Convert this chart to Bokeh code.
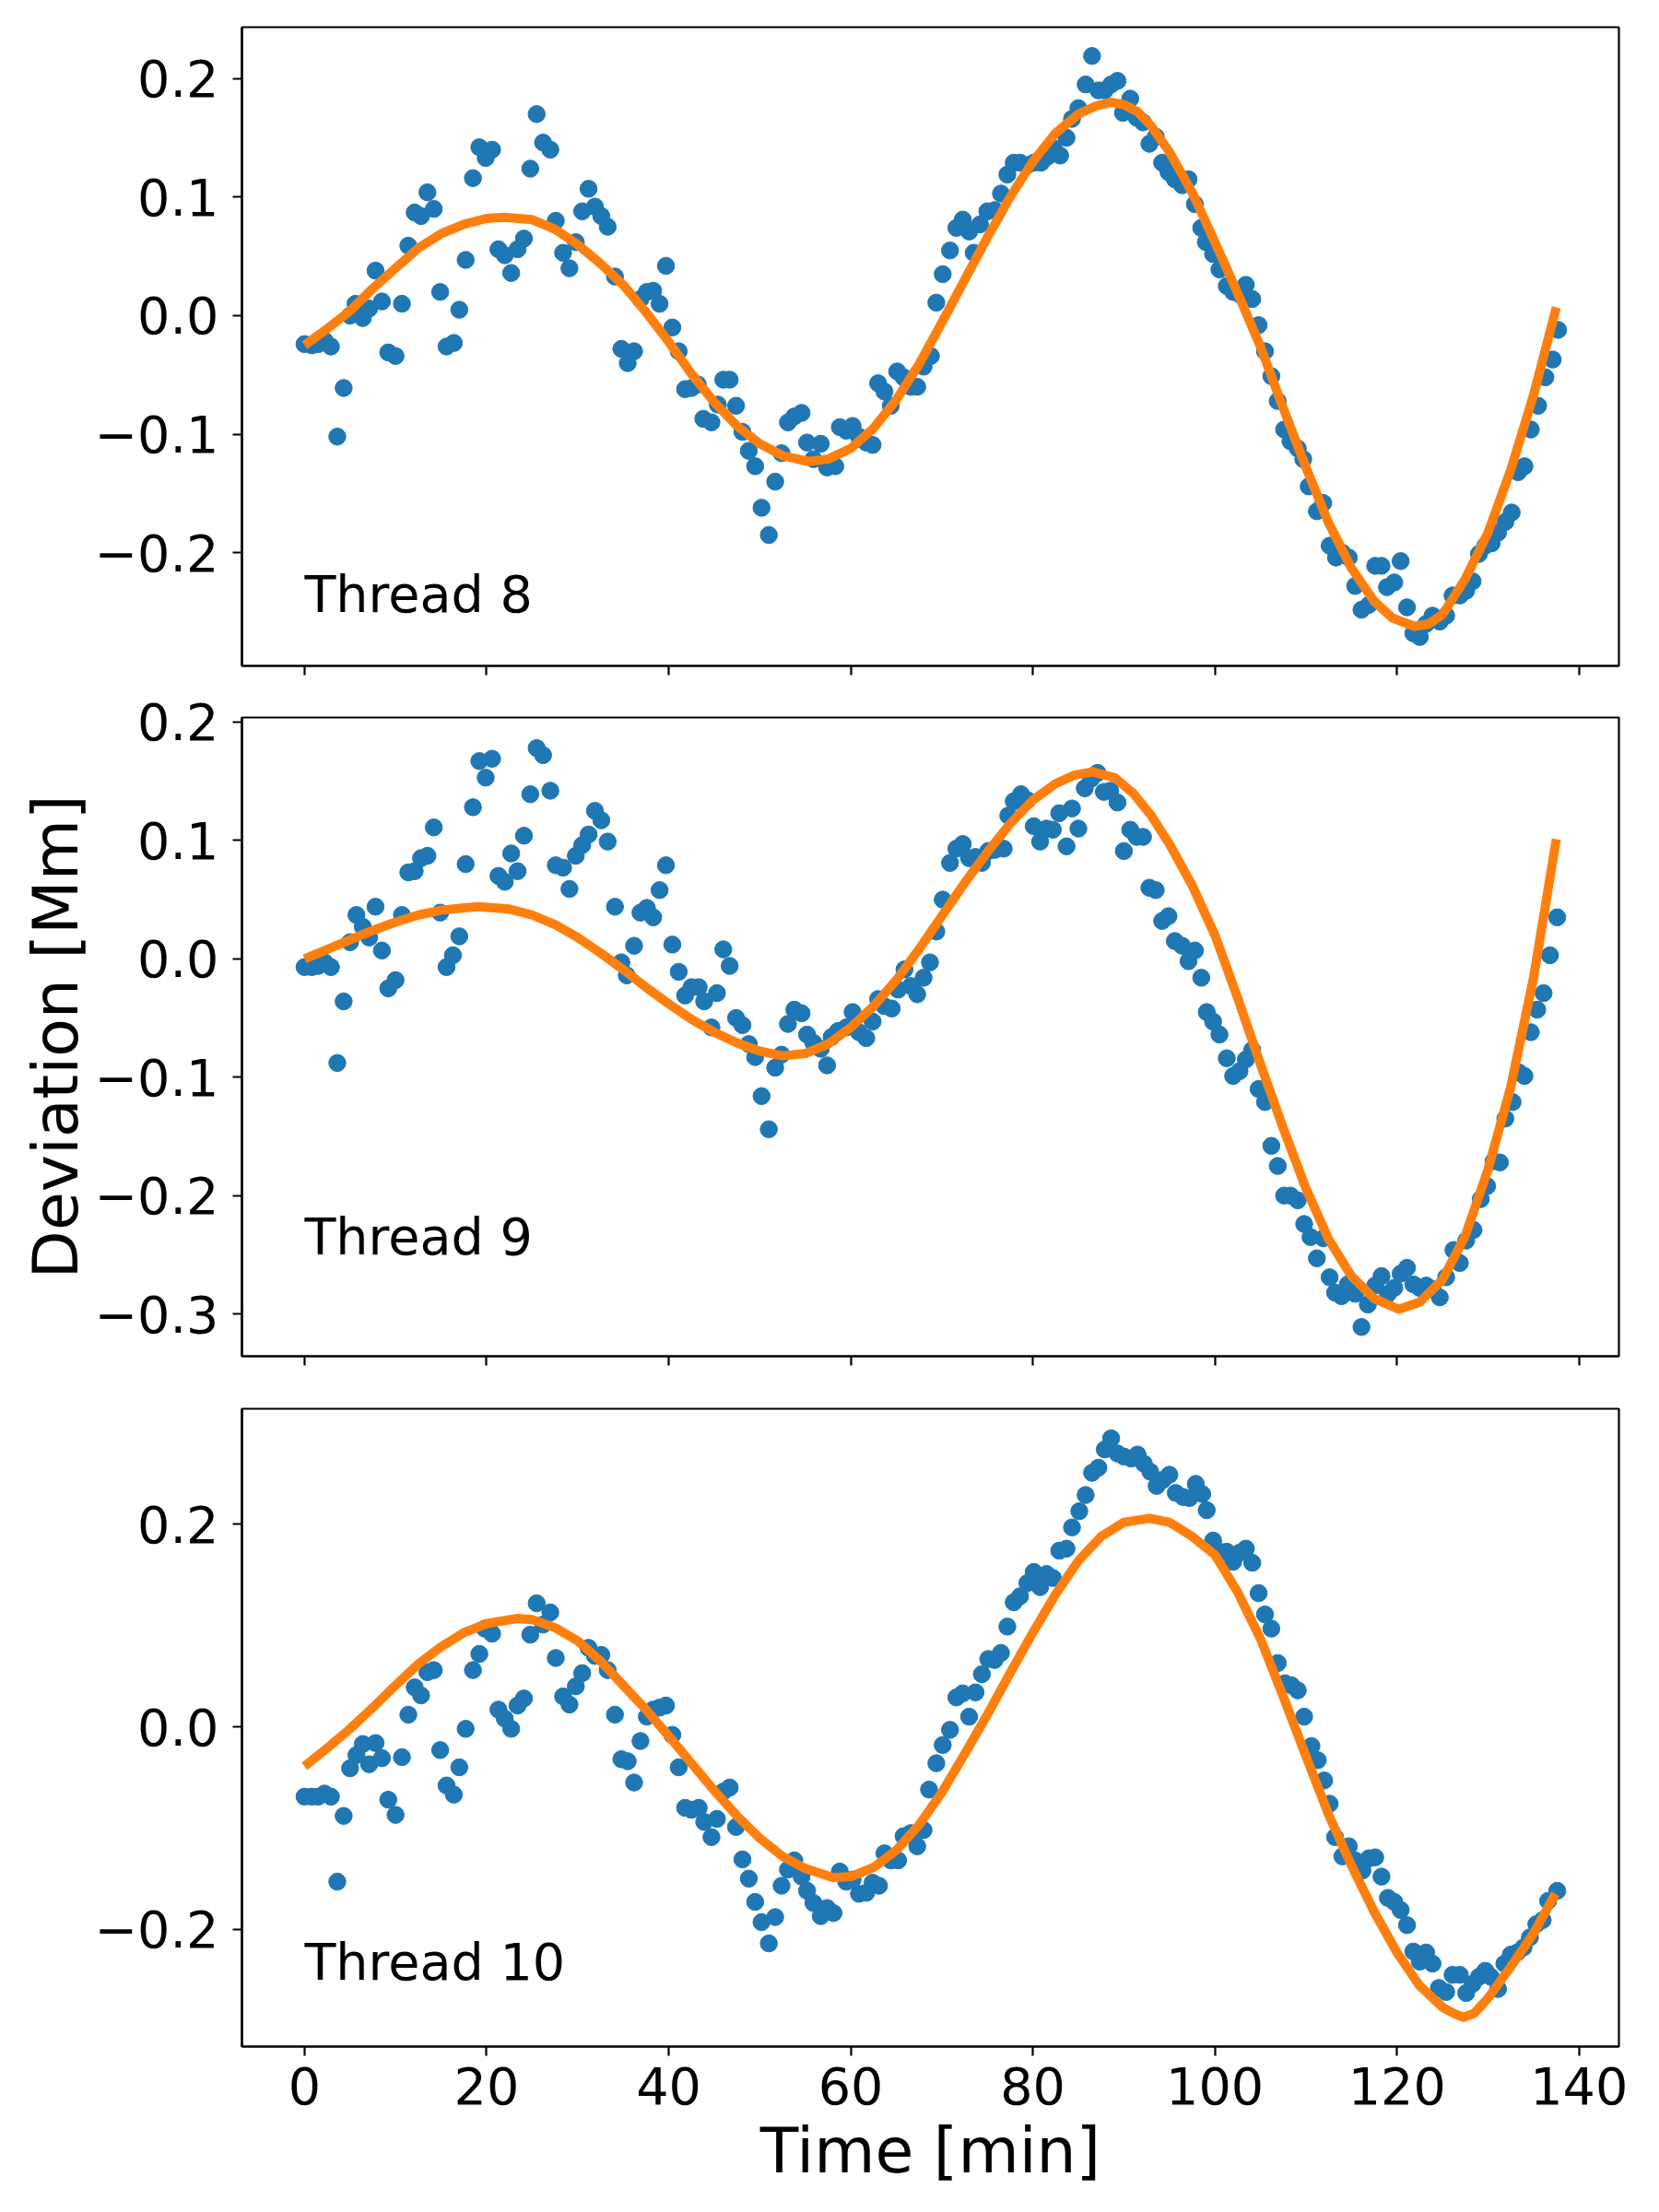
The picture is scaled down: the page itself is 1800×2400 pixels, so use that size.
from bokeh.plotting import figure
from bokeh.models import Range1d, FixedTicker, CustomJSTickFormatter, Label
from bokeh.layouts import column
from bokeh.embed import file_html
from bokeh.resources import INLINE

# ---------------- data ----------------
t8 = [0.0, 0.8, 1.5, 2.2, 2.9, 3.6, 4.3, 5.0, 5.6, 6.4, 7.1, 7.8, 8.5, 9.2, 10.0, 10.7, 11.4, 12.1, 12.8, 13.5,
      14.2, 14.9, 15.6, 16.4, 17.0, 17.7, 18.5, 19.2, 19.9, 20.6, 21.3, 22.0, 22.7, 23.4, 24.1, 24.8, 25.5, 26.2,
      27.0, 27.6, 28.4, 29.1, 29.8, 30.5, 31.2, 31.9, 32.6, 33.3, 34.1, 34.8, 35.5, 36.2, 36.9, 37.6, 38.3, 39.0,
      39.7, 40.4, 41.1, 41.8, 42.5, 43.2, 43.8, 44.7, 45.4, 46.0, 46.7, 47.4, 48.1, 48.8, 49.5, 50.2, 51.0, 51.7,
      52.4, 53.1, 53.8, 54.6, 55.2, 55.9, 56.7, 57.4, 58.3, 58.8, 59.5, 60.2, 60.9, 61.7, 62.4, 63.0, 63.7, 64.4,
      65.1, 65.8, 66.6, 67.3, 68.0, 68.8, 69.4, 70.1, 70.9, 71.6, 72.3, 73.0, 73.5, 74.2, 75.0, 75.8, 76.5, 77.2,
      77.9, 78.6, 79.4, 80.1, 80.9, 81.6, 82.3, 83.0, 83.7, 84.3, 85.0, 85.8, 86.5, 87.2, 87.9, 88.6, 89.3, 89.9,
      90.7, 91.4, 92.1, 92.8, 93.5, 94.2, 94.9, 95.6, 96.4, 97.1, 97.8, 98.5, 99.0, 99.8, 100.5, 101.3, 102.0,
      102.7, 103.4, 104.1, 104.8, 105.5, 106.2, 106.9, 107.6, 108.3, 109.1, 109.7, 110.3, 111.2, 111.9, 112.6,
      113.3, 114.0, 114.7, 115.4, 116.1, 116.9, 117.6, 118.3, 118.9, 119.7, 120.4, 121.1, 121.8, 122.5, 123.2,
      123.9, 124.7, 125.4, 126.1, 126.9, 127.6, 128.3, 129.0, 129.7, 130.4, 131.1, 131.9, 132.6, 133.3, 134.0,
      134.7, 135.5, 136.3, 137.1, 137.7]
y8 = [-0.024, -0.025, -0.024, -0.021, -0.026, -0.102, -0.061, 0.000, 0.010, -0.002, 0.006, 0.038, 0.012, -0.031,
      -0.034, 0.010, 0.059, 0.087, 0.084, 0.104, 0.090, 0.020, -0.026, -0.023, 0.005, 0.047, 0.116, 0.142, 0.133,
      0.140, 0.056, 0.051, 0.036, 0.056, 0.065, 0.124, 0.170, 0.146, 0.140, 0.080, 0.053, 0.040, 0.062, 0.088,
      0.107, 0.092, 0.084, 0.075, 0.033, -0.028, -0.040, -0.030, 0.014, 0.020, 0.021, 0.010, 0.042, -0.010,
      -0.030, -0.062, -0.061, -0.058, -0.087, -0.090, -0.075, -0.054, -0.054, -0.076, -0.098, -0.114, -0.127,
      -0.162, -0.185, -0.140, -0.116, -0.090, -0.085, -0.082, -0.107, -0.121, -0.108, -0.128, -0.127, -0.094,
      -0.097, -0.093, -0.102, -0.107, -0.109, -0.057, -0.064, -0.076, -0.047, -0.052, -0.060, -0.060, -0.043,
      -0.034, 0.011, 0.035, 0.055, 0.074, 0.081, 0.071, 0.053, 0.077, 0.088, 0.089, 0.103, 0.119, 0.129, 0.129,
      0.127, 0.129, 0.129, 0.134, 0.141, 0.135, 0.150, 0.166, 0.175, 0.195, 0.219, 0.190, 0.190, 0.195, 0.198,
      0.171, 0.183, 0.167, 0.163, 0.145, 0.151, 0.129, 0.121, 0.115, 0.110, 0.115, 0.094, 0.074, 0.062, 0.052,
      0.039, 0.025, 0.020, 0.018, 0.026, 0.014, -0.008, -0.030, -0.051, -0.072, -0.096, -0.106, -0.112, -0.121,
      -0.144, -0.165, -0.158, -0.194, -0.204, -0.200, -0.204, -0.228, -0.248, -0.244, -0.211, -0.211, -0.229,
      -0.225, -0.207, -0.246, -0.268, -0.271, -0.260, -0.253, -0.258, -0.253, -0.236, -0.236, -0.232, -0.224,
      -0.201, -0.194, -0.192, -0.183, -0.174, -0.166, -0.132, -0.127, -0.096, -0.076, -0.052, -0.037, -0.012]
fit8_t = [0, 2.5, 5, 7.5, 10, 12.5, 15, 17.5, 20, 22, 25, 27.5, 30, 32.5, 35, 37.5, 40, 42.5, 45, 47.5, 50, 52.5,
          55.3, 57.5, 60, 62.5, 65, 67.5, 70, 72.5, 75, 77.5, 80, 82.5, 85, 87, 88.6, 90, 91.5, 93, 95, 97.5, 100,
          102.5, 105, 107.5, 110, 112.5, 115, 117.5, 119.5, 121.9, 123.5, 125, 127.5, 130, 132.5, 135, 137.5]
fit8_y = [-0.025, -0.011, 0.004, 0.023, 0.040, 0.057, 0.069, 0.077, 0.082, 0.083, 0.081, 0.073, 0.060, 0.044,
          0.026, 0.003, -0.022, -0.049, -0.073, -0.093, -0.108, -0.118, -0.123, -0.121, -0.112, -0.095, -0.071,
          -0.041, -0.006, 0.030, 0.066, 0.100, 0.130, 0.154, 0.170, 0.177, 0.180, 0.178, 0.172, 0.160, 0.138,
          0.104, 0.062, 0.019, -0.026, -0.078, -0.128, -0.175, -0.213, -0.241, -0.255, -0.262, -0.260, -0.252,
          -0.222, -0.183, -0.130, -0.067, 0.007]

t9 = [0.0, 0.8, 1.5, 2.2, 2.9, 3.6, 4.3, 5.0, 5.7, 6.4, 7.1, 7.8, 8.5, 9.2, 10.0, 10.7, 11.4, 12.1, 12.8, 13.5,
      14.2, 14.9, 15.6, 16.3, 17.0, 17.7, 18.5, 19.2, 19.9, 20.6, 21.3, 22.0, 22.7, 23.4, 24.1, 24.8, 25.5, 26.2,
      27.0, 27.6, 28.4, 29.1, 29.8, 30.5, 31.2, 31.9, 32.6, 33.3, 34.1, 34.8, 35.4, 36.2, 36.9, 37.6, 38.3, 39.0,
      39.7, 40.4, 41.1, 41.8, 42.5, 43.3, 43.9, 44.7, 45.3, 46.0, 46.7, 47.4, 48.1, 48.8, 49.5, 50.2, 51.0, 51.7,
      52.4, 53.1, 53.8, 54.6, 55.2, 55.9, 56.7, 57.4, 57.9, 58.6, 59.5, 60.2, 60.9, 61.7, 62.4, 63.0, 63.7, 64.5,
      65.2, 65.9, 66.6, 67.3, 68.0, 68.7, 69.4, 70.1, 70.9, 71.6, 72.3, 73.0, 73.7, 74.4, 75.1, 75.8, 76.8, 77.3,
      77.9, 78.7, 79.4, 80.1, 80.8, 81.5, 82.2, 82.9, 83.7, 84.3, 85.0, 85.7, 86.4, 87.1, 87.8, 88.5, 89.3, 90.0,
      90.7, 91.4, 92.1, 92.8, 93.5, 94.2, 94.9, 95.6, 96.4, 97.1, 97.8, 98.5, 99.1, 99.8, 100.5, 101.3, 102.0,
      102.7, 103.4, 104.1, 104.8, 105.5, 106.2, 106.9, 107.6, 108.3, 109.1, 109.8, 110.5, 111.2, 111.9, 112.6,
      113.2, 113.9, 114.6, 115.4, 116.1, 116.8, 117.6, 118.3, 119.0, 119.7, 120.4, 121.1, 121.8, 122.5, 123.2,
      123.9, 124.7, 125.4, 126.2, 126.9, 127.6, 128.4, 129.2, 129.9, 130.6, 131.3, 131.9, 132.7, 133.4, 134.0,
      134.7, 135.4, 136.1, 136.8, 137.6]
y9 = [-0.007, -0.007, -0.006, -0.003, -0.007, -0.088, -0.036, 0.014, 0.037, 0.027, 0.018, 0.044, 0.007, -0.025,
      -0.018, 0.037, 0.073, 0.074, 0.085, 0.087, 0.111, 0.039, -0.007, 0.003, 0.019, 0.080, 0.128, 0.167, 0.153,
      0.169, 0.070, 0.065, 0.089, 0.074, 0.104, 0.139, 0.178, 0.172, 0.142, 0.079, 0.077, 0.059, 0.087, 0.096,
      0.105, 0.125, 0.117, 0.099, 0.044, -0.003, -0.014, 0.011, 0.039, 0.043, 0.035, 0.058, 0.079, 0.012, -0.011,
      -0.031, -0.024, -0.024, -0.036, -0.058, -0.029, 0.008, -0.006, -0.050, -0.056, -0.072, -0.083, -0.116,
      -0.144, -0.092, -0.081, -0.055, -0.043, -0.046, -0.064, -0.071, -0.076, -0.090, -0.066, -0.061, -0.058,
      -0.045, -0.062, -0.067, -0.053, -0.034, -0.040, -0.042, -0.026, -0.009, -0.023, -0.030, -0.016, -0.003,
      0.023, 0.050, 0.081, 0.093, 0.097, 0.085, 0.086, 0.081, 0.091, 0.092, 0.093, 0.121, 0.133, 0.139, 0.134,
      0.112, 0.099, 0.110, 0.109, 0.123, 0.095, 0.127, 0.110, 0.144, 0.152, 0.157, 0.141, 0.142, 0.132, 0.091,
      0.109, 0.103, 0.103, 0.060, 0.058, 0.032, 0.036, 0.015, 0.011, -0.002, 0.007, -0.016, -0.045, -0.053,
      -0.064, -0.084, -0.099, -0.095, -0.085, -0.077, -0.110, -0.121, -0.158, -0.175, -0.200, -0.200, -0.204,
      -0.224, -0.235, -0.253, -0.236, -0.269, -0.282, -0.285, -0.275, -0.283, -0.311, -0.292, -0.276, -0.268,
      -0.283, -0.278, -0.266, -0.261, -0.275, -0.278, -0.276, -0.279, -0.286, -0.269, -0.246, -0.257, -0.238,
      -0.229, -0.203, -0.192, -0.171, -0.172, -0.135, -0.121, -0.096, -0.099, -0.062, -0.043, -0.029, 0.003, 0.035]
fit9_t = [0, 2.5, 5, 7.5, 10, 12.5, 15, 17.5, 19.1, 22.5, 25, 27.5, 30, 32.5, 35, 37.5, 40, 42.5, 45, 47.5, 50,
          52.5, 55, 57.5, 60, 62.5, 65, 67.5, 70, 72.5, 75, 77.5, 80, 82.5, 84.5, 86.6, 89, 91, 93, 95, 97.5, 100,
          102.5, 105, 107.5, 110, 112.5, 115, 117.5, 120.2, 122.5, 125, 127.5, 130, 132.5, 135, 137.5]
fit9_y = [0.000, 0.008, 0.016, 0.024, 0.031, 0.037, 0.041, 0.043, 0.044, 0.042, 0.037, 0.029, 0.018, 0.005,
          -0.009, -0.024, -0.038, -0.051, -0.062, -0.071, -0.078, -0.082, -0.080, -0.072, -0.058, -0.040, -0.018,
          0.008, 0.036, 0.064, 0.090, 0.114, 0.134, 0.148, 0.155, 0.158, 0.153, 0.140, 0.121, 0.097, 0.062, 0.020,
          -0.033, -0.089, -0.143, -0.194, -0.237, -0.268, -0.287, -0.296, -0.290, -0.271, -0.234, -0.178, -0.108,
          -0.016, 0.101]

t10 = [0.0, 0.8, 1.5, 2.2, 2.9, 3.6, 4.3, 5.0, 5.7, 6.4, 7.1, 7.8, 8.5, 9.2, 10.0, 10.7, 11.4, 12.1, 12.8, 13.5,
       14.2, 14.9, 15.6, 16.4, 17.0, 17.7, 18.5, 19.2, 19.8, 20.6, 21.3, 22.0, 22.7, 23.4, 24.1, 24.8, 25.5, 26.2,
       27.0, 27.6, 28.4, 29.1, 29.8, 30.5, 31.2, 31.9, 32.6, 33.3, 34.1, 34.8, 35.5, 36.2, 36.9, 37.6, 38.3, 39.0,
       39.7, 40.4, 41.1, 41.8, 42.5, 43.3, 43.9, 44.7, 45.3, 46.0, 46.7, 47.4, 48.1, 48.8, 49.5, 50.2, 51.0, 51.7,
       52.4, 53.1, 53.8, 54.6, 55.2, 55.9, 56.7, 57.4, 58.1, 58.8, 59.5, 60.2, 60.9, 61.7, 62.4, 63.1, 63.7, 64.4,
       65.2, 65.8, 66.6, 67.3, 68.0, 68.6, 69.4, 70.1, 70.9, 71.6, 72.3, 73.0, 73.7, 74.4, 75.1, 75.8, 76.5, 77.2,
       77.9, 78.6, 79.4, 80.1, 80.8, 81.5, 82.2, 82.9, 83.7, 84.3, 85.1, 85.8, 86.5, 87.2, 87.9, 88.6, 89.3, 90.0,
       90.8, 91.5, 92.2, 92.9, 93.6, 94.3, 95.0, 95.7, 96.5, 97.2, 97.9, 98.6, 99.1, 99.8, 100.5, 101.3, 102.0,
       102.7, 103.4, 104.1, 104.8, 105.5, 106.2, 106.9, 107.7, 108.4, 109.1, 109.8, 110.6, 111.3, 112.0, 112.6,
       113.2, 114.0, 114.7, 115.4, 116.2, 116.9, 117.6, 118.3, 119.0, 119.7, 120.4, 121.1, 121.8, 122.5, 123.2,
       123.9, 124.6, 125.4, 126.1, 126.9, 127.6, 128.3, 129.0, 129.7, 130.3, 131.1, 131.8, 132.5, 133.2, 133.9,
       134.6, 135.3, 136.0, 136.6, 137.6]
y10 = [-0.069, -0.069, -0.069, -0.066, -0.069, -0.153, -0.088, -0.041, -0.028, -0.017, -0.037, -0.016, -0.031,
       -0.072, -0.087, -0.030, 0.012, 0.039, 0.031, 0.054, 0.056, -0.023, -0.058, -0.067, -0.040, -0.002, 0.056,
       0.072, 0.097, 0.092, 0.017, 0.008, -0.002, 0.021, 0.028, 0.091, 0.122, 0.101, 0.113, 0.068, 0.030, 0.022,
       0.040, 0.053, 0.078, 0.070, 0.071, 0.056, 0.012, -0.032, -0.034, -0.055, -0.014, 0.010, 0.017, 0.019,
       0.021, -0.008, -0.040, -0.080, -0.082, -0.080, -0.094, -0.109, -0.091, -0.064, -0.060, -0.099, -0.131,
       -0.150, -0.173, -0.193, -0.214, -0.188, -0.157, -0.141, -0.132, -0.148, -0.162, -0.174, -0.187, -0.179,
       -0.184, -0.143, -0.153, -0.151, -0.165, -0.164, -0.154, -0.157, -0.125, -0.132, -0.132, -0.108, -0.105,
       -0.118, -0.102, -0.062, -0.036, -0.018, -0.003, 0.029, 0.033, 0.010, 0.034, 0.052, 0.067, 0.066, 0.073,
       0.099, 0.123, 0.129, 0.142, 0.153, 0.138, 0.151, 0.147, 0.174, 0.176, 0.197, 0.213, 0.229, 0.251, 0.256,
       0.274, 0.285, 0.270, 0.267, 0.265, 0.269, 0.260, 0.252, 0.238, 0.244, 0.249, 0.231, 0.227, 0.226, 0.240,
       0.230, 0.214, 0.184, 0.173, 0.173, 0.163, 0.172, 0.176, 0.162, 0.132, 0.111, 0.097, 0.063, 0.043, 0.041,
       0.036, 0.010, -0.019, -0.033, -0.053, -0.076, -0.109, -0.128, -0.118, -0.132, -0.142, -0.130, -0.129,
       -0.148, -0.169, -0.173, -0.181, -0.196, -0.222, -0.232, -0.223, -0.234, -0.258, -0.262, -0.245, -0.245,
       -0.263, -0.254, -0.247, -0.241, -0.247, -0.259, -0.234, -0.225, -0.223, -0.218, -0.208, -0.195, -0.191,
       -0.172, -0.162]
fit10_t = [0, 2.5, 5, 7.5, 10, 12.5, 15, 17.5, 20, 23.4, 25, 27.5, 30, 32.5, 35, 37.5, 40, 42.5, 45, 47.5, 50,
           52.5, 55, 58.1, 60, 62.5, 65, 67.5, 70, 72.5, 75, 77.5, 80, 82.5, 85, 87.5, 90, 92.8, 95, 97.5, 100,
           102.5, 105, 107.5, 110, 112.5, 115, 117.5, 120, 122.5, 125, 126.2, 127.3, 128.5, 130, 132.5, 135, 137.4]
fit10_y = [-0.039, -0.021, -0.002, 0.019, 0.041, 0.062, 0.079, 0.093, 0.102, 0.107, 0.106, 0.098, 0.085, 0.065,
           0.041, 0.017, -0.009, -0.036, -0.063, -0.088, -0.110, -0.128, -0.140, -0.149, -0.148, -0.139, -0.122,
           -0.097, -0.065, -0.027, 0.012, 0.053, 0.093, 0.131, 0.164, 0.188, 0.202, 0.206, 0.202, 0.188, 0.170,
           0.133, 0.087, 0.030, -0.029, -0.087, -0.137, -0.183, -0.223, -0.256, -0.277, -0.283, -0.287, -0.283,
           -0.268, -0.237, -0.204, -0.165]

names = ["Thread 8", "Thread 9", "Thread 10"]
yticks8 = [-0.2, -0.1, 0.0, 0.1, 0.2]
yticks9 = [-0.3, -0.2, -0.1, 0.0, 0.1, 0.2]
yticks10 = [-0.2, 0.0, 0.2]
xticks = [0, 20, 40, 60, 80, 100, 120, 140]

FONT = "DejaVu Sans"
BLUE = "#1f77b4"
ORANGE = "#ff7f0e"

fmt_y = CustomJSTickFormatter(code="""
    if (Math.abs(tick) < 1e-9) { return '0.0'; }
    return tick.toFixed(1).replace('-', '\u2212');
""")
fmt_blank = CustomJSTickFormatter(code="return '';")


def panel(t, y, ft, fy, yr, yticks, name, top, bottom, xlabels, xlabel=None, ylabel=None):
    p = figure(frame_width=1494, frame_height=yr[2],
               x_range=Range1d(-6.875, 144.375), y_range=Range1d(yr[0], yr[1]),
               output_backend="svg", toolbar_location=None,
               min_border_left=262, min_border_right=20,
               min_border_top=top, min_border_bottom=bottom,
               background_fill_color="white", border_fill_color="white")
    p.scatter(t, y, size=18.5, color=BLUE, line_color=BLUE)
    p.line(ft, fy, line_width=10, color=ORANGE, line_join="round")
    p.add_layout(Label(x=0, y=-0.25, y_offset=20, text=name, text_font=FONT, text_font_size="55.6px",
                       text_align="left", text_baseline="alphabetic", text_color="black"))
    p.xgrid.grid_line_color = None
    p.ygrid.grid_line_color = None
    p.outline_line_color = "black"
    p.outline_line_width = 2.2
    for ax in (p.xaxis[0], p.yaxis[0]):
        ax.axis_line_width = 2.2
        ax.major_tick_line_width = 2.2
        ax.major_tick_out = 10
        ax.major_tick_in = 0
        ax.minor_tick_line_color = None
        ax.major_label_text_font = FONT
        ax.major_label_text_font_size = "55.6px"
        ax.major_label_text_color = "black"
        ax.axis_label_text_font = FONT
        ax.axis_label_text_font_size = "68px"
        ax.axis_label_text_font_style = "normal"
        ax.axis_label_text_color = "black"
    p.xaxis.ticker = FixedTicker(ticks=xticks)
    p.yaxis.ticker = FixedTicker(ticks=yticks)
    p.yaxis.formatter = fmt_y
    p.yaxis.major_label_standoff = 15
    p.xaxis.major_label_standoff = 12
    if not xlabels:
        p.xaxis.formatter = fmt_blank
        p.xaxis.major_label_text_font_size = "0px"
        p.xaxis.major_label_standoff = 0
    if xlabel:
        p.xaxis.axis_label = xlabel
        p.xaxis.axis_label_standoff = 8
    if ylabel:
        p.yaxis.axis_label = ylabel
        p.yaxis.axis_label_standoff = 0
    return p


p1 = panel(t8, y8, fit8_t, fit8_y, (-0.2954, 0.2433, 693), yticks8, names[0], 29, 28, False)
p2 = panel(t9, y9, fit9_t, fit9_y, (-0.3357, 0.2038, 693), yticks9, names[1], 28, 28, False,
           ylabel="Deviation [Mm]")
p3 = panel(t10, y10, fit10_t, fit10_y, (-0.3159, 0.3142, 692), yticks10, names[2], 29, 160, True,
           xlabel="Time [min]")

layout = column(p1, p2, p3, spacing=0)
open("out.html", "w").write(file_html(layout, INLINE))
